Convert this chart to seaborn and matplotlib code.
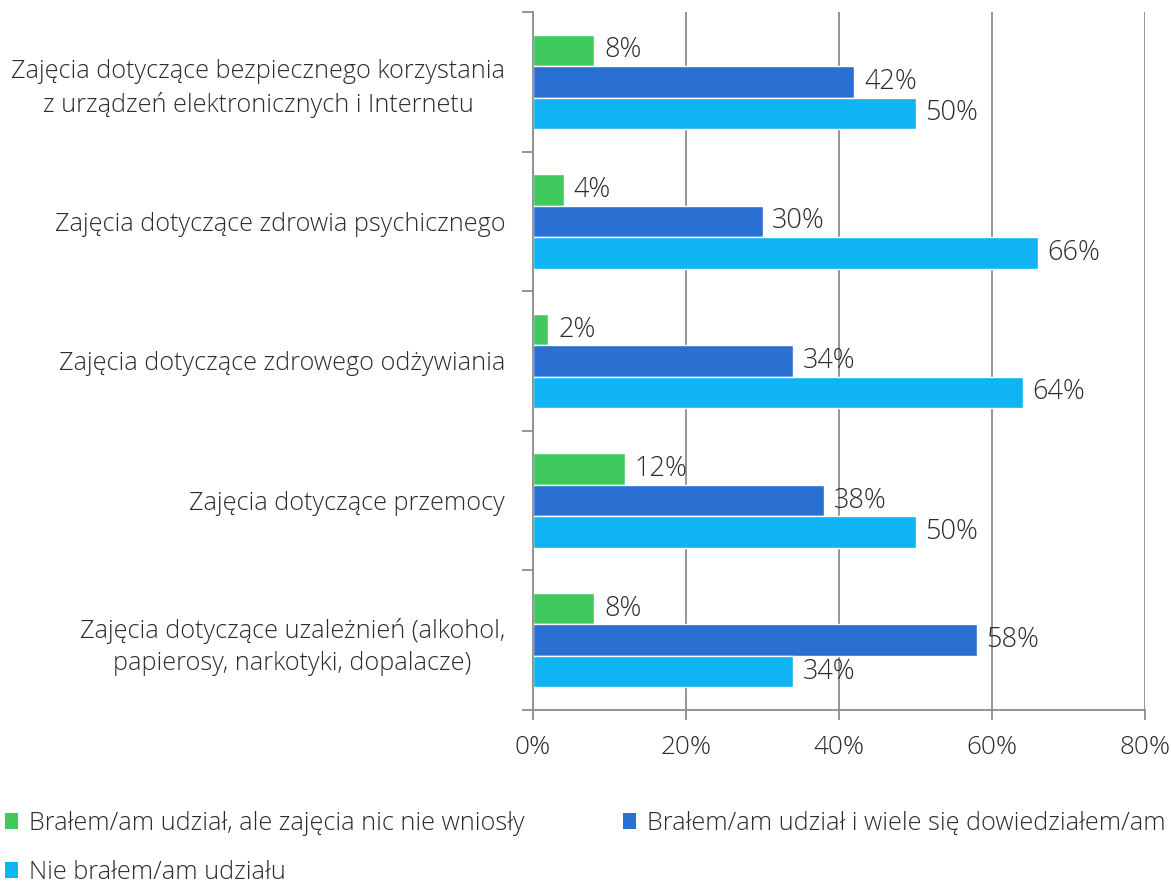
import numpy as np
import pandas as pd
import matplotlib
matplotlib.use("Agg")
import matplotlib.pyplot as plt
from matplotlib.patches import Patch
import seaborn as sns

# Data
categories = [
    "Zajęcia dotyczące bezpiecznego korzystania\nz urządzeń elektronicznych i Internetu",
    "Zajęcia dotyczące zdrowia psychicznego",
    "Zajęcia dotyczące zdrowego odżywiania",
    "Zajęcia dotyczące przemocy",
    "Zajęcia dotyczące uzależnień (alkohol,\npapierosy, narkotyki, dopalacze)",
]
series = [
    "Brałem/am udział, ale zajęcia nic nie wniosły",
    "Brałem/am udział i wiele się dowiedziałem/am",
    "Nie brałem/am udziału",
]
nothing_gained = [8, 4, 2, 12, 8]
learned_a_lot = [42, 30, 34, 38, 58]
not_taken = [50, 66, 64, 50, 34]
x_ticks = [0, 20, 40, 60, 80]

colors = ["#40c95c", "#2a6fd2", "#10b4f2"]
text_color = "#2b2b2b"
grid_color = "#8c8c8c"
fs = 18.2
fs_val = 19.5

rows = []
for s, vals in zip(series, [nothing_gained, learned_a_lot, not_taken]):
    for c, v in zip(categories, vals):
        rows.append({"kategoria": c, "odpowiedz": s, "procent": v})
df = pd.DataFrame(rows)

sns.set_theme(style="white")
plt.rcParams["font.family"] = ["Open Sans", "DejaVu Sans"]
plt.rcParams["font.weight"] = "light"
plt.rcParams["text.color"] = text_color

fig = plt.figure(figsize=(11.71, 8.83), dpi=100)
ax = fig.add_axes([533 / 1171, 1 - 710 / 883, (1145 - 533) / 1171, (710 - 12) / 883])

sns.barplot(data=df, y="kategoria", x="procent", hue="odpowiedz",
            order=categories, hue_order=series, palette=colors,
            orient="h", width=0.675, saturation=1, ax=ax, legend=False)

# value labels
for cont in ax.containers:
    labels = [f"{b.get_width():.0f}%" for b in cont]
    ax.bar_label(cont, labels=labels, padding=7, fontsize=fs_val, color=text_color)

ax.set_xlim(0, 80)
ax.set_ylim(len(categories) - 0.5, -0.5)
ax.set_xticks(x_ticks)
ax.set_xticklabels([f"{t}%" for t in x_ticks], fontsize=fs_val - 0.7, color=text_color)
ax.set_xlabel("")
ax.set_ylabel("")

# grid and spines
ax.set_axisbelow(True)
ax.xaxis.grid(True, color=grid_color, linewidth=1.3)
ax.yaxis.grid(False)
for side in ["top", "right"]:
    ax.spines[side].set_visible(False)
for side in ["left", "bottom"]:
    ax.spines[side].set_color(grid_color)
    ax.spines[side].set_linewidth(1.3)

ax.tick_params(axis="x", bottom=True, length=7, width=1.3, color=grid_color, pad=11)
ax.tick_params(axis="y", which="major", left=False, pad=14, labelsize=fs, labelcolor=text_color)
ax.set_yticks(np.arange(-0.5, len(categories), 1), minor=True)
ax.tick_params(axis="y", which="minor", left=True, length=8, width=1.3, color=grid_color)
for t in ax.get_yticklabels():
    t.set_multialignment("center")
    t.set_linespacing(1.4)

# legend: row-wise order (matplotlib fills columns first)
handles = [Patch(facecolor=c, edgecolor="none") for c in colors]
order = [0, 2, 1]
fig.legend([handles[i] for i in order], [series[i] for i in order],
           loc="upper left", bbox_to_anchor=(0.0, 1 - 806 / 883),
           ncol=2, frameon=False, fontsize=fs, handlelength=0.5, handleheight=0.6,
           handletextpad=0.45, columnspacing=3.9, labelspacing=0.95, borderpad=0.2,
           borderaxespad=0)

fig.savefig("out.png", dpi=100)
